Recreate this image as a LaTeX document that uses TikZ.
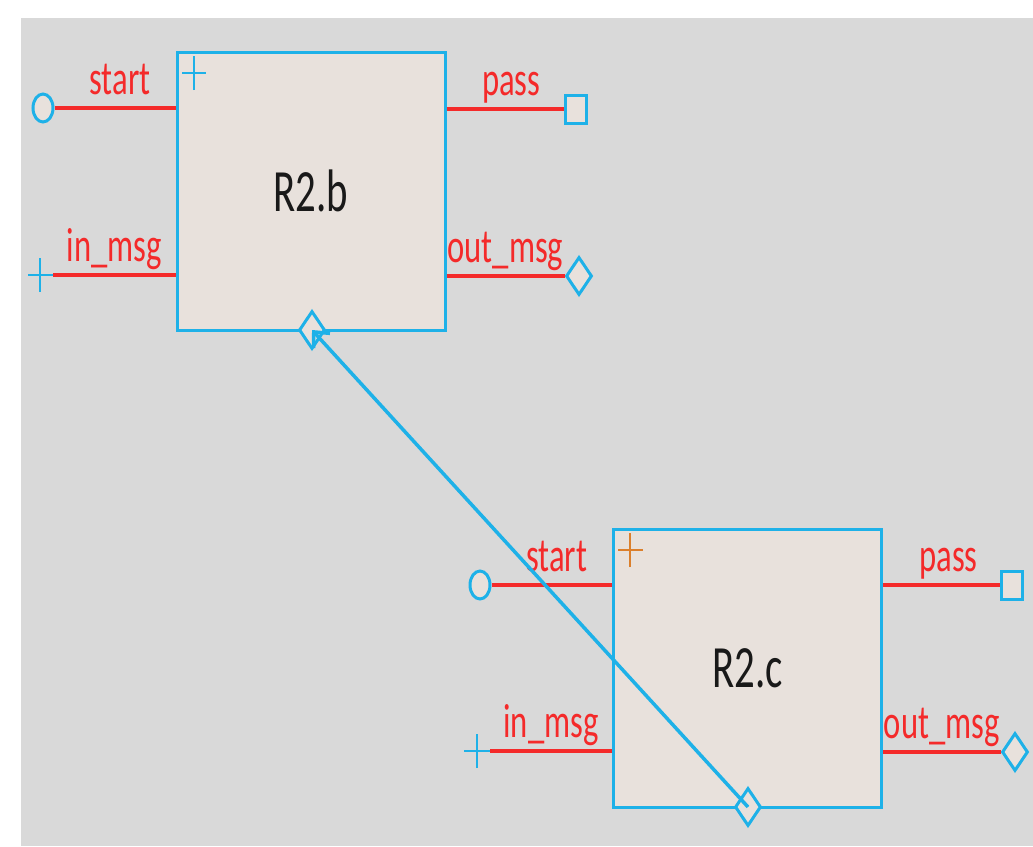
\documentclass[tikz,border=0pt]{standalone}
\usepackage{fontspec}
\usepackage{xcolor}
\usetikzlibrary{shapes.geometric, arrows.meta}
\newfontfamily\lblfont[FakeStretch=0.68]{Carlito}
\definecolor{pcyan}{HTML}{1EB1E8}
\definecolor{pred}{HTML}{F42A2A}
\definecolor{porange}{HTML}{DB7F2C}
\definecolor{pfill}{HTML}{E8E1DC}
\definecolor{pgray}{HTML}{D9D9D9}

\begin{document}
\begin{tikzpicture}[x=1pt, y=-1pt,
    blk/.style={draw=pcyan, fill=pfill, line width=3pt, inner sep=0,
        minimum width=268pt, minimum height=278pt,
        font={\lblfont\fontsize{60}{62}\selectfont}, text=black!90},
    wire/.style={pred, line width=4pt},
    lbl/.style={text=pred, font={\lblfont\fontsize{48}{50}\selectfont},
        anchor=base, yshift=14pt, inner sep=0},
    pin/.style={draw=pcyan, fill=pfill, line width=3pt, inner sep=0},
    pcirc/.style={pin, ellipse, minimum width=20pt, minimum height=28pt},
    psq/.style={pin, rectangle, minimum width=21pt, minimum height=28pt},
    pdia/.style={pin, diamond, minimum width=26pt, minimum height=38pt},
    crs/.style={line width=2.5pt}]
    % Nền
    \useasboundingbox (0,0) rectangle (1033,846);
    \fill[pgray] (21,18) rectangle (1033,846);

    % Khối R2.b
    \node[blk] (rb) at (311,191) {R2.b};
    \node[pcirc] (rbstart) at (43,108) {};
    \coordinate (rbin) at (40,275);
    \node[psq] (rbpass) at (576,109) {};
    \node[pdia] (rbout) at (579,276) {};
    \coordinate (rbplus) at (194,73);

    \draw[wire] (rbstart) -- (rbstart -| rb.west) node[lbl, midway, xshift=5pt] {start};
    \draw[wire] ([xshift=13pt]rbin) -- (rbin -| rb.west) node[lbl, midway] {in\_msg};
    \draw[wire] (rbpass -| rb.east) -- (rbpass) node[lbl, midway, xshift=6pt] {pass};
    \draw[wire] (rbout -| rb.east) -- (rbout) node[lbl, midway] {out\_msg};
    \draw[pcyan, crs] ([xshift=-12pt]rbin) -- ([xshift=13pt]rbin)
        ([yshift=-17pt]rbin) -- ([yshift=17pt]rbin);
    \draw[pcyan, crs] ([xshift=-12pt]rbplus) -- ([xshift=12pt]rbplus)
        ([yshift=-17pt]rbplus) -- ([yshift=17pt]rbplus);
    \node[pdia] (rbbot) at (312,330) {};

    % Khối R2.c
    \node[blk] (rc) at (747.5,668) {R2.c};
    \node[pcirc] (rcstart) at (480,585) {};
    \coordinate (rcin) at (477,751);
    \node[psq] (rcpass) at (1012,585) {};
    \node[pdia] (rcout) at (1015,752) {};
    \coordinate (rcplus) at (630,550);

    \draw[wire] (rcstart) -- (rcstart -| rc.west) node[lbl, midway, xshift=5pt] {start};
    \draw[wire] ([xshift=13pt]rcin) -- (rcin -| rc.west) node[lbl, midway] {in\_msg};
    \draw[wire] (rcpass -| rc.east) -- (rcpass) node[lbl, midway, xshift=7pt] {pass};
    \draw[wire] (rcout -| rc.east) -- (rcout) node[lbl, midway] {out\_msg};
    \draw[pcyan, crs] ([xshift=-13pt]rcin) -- ([xshift=13pt]rcin)
        ([yshift=-17pt]rcin) -- ([yshift=17pt]rcin);
    \draw[porange, crs] ([xshift=-12pt]rcplus) -- ([xshift=13pt]rcplus)
        ([yshift=-17pt]rcplus) -- ([yshift=17pt]rcplus);
    \node[pdia] (rcbot) at (748,807) {};

    % Mũi tên nối
    \draw[pcyan, line width=3.5pt, -{Straight Barb[length=12pt, width=22pt]}]
        (rcbot.center) -- (rbbot.center);
\end{tikzpicture}
\end{document}
